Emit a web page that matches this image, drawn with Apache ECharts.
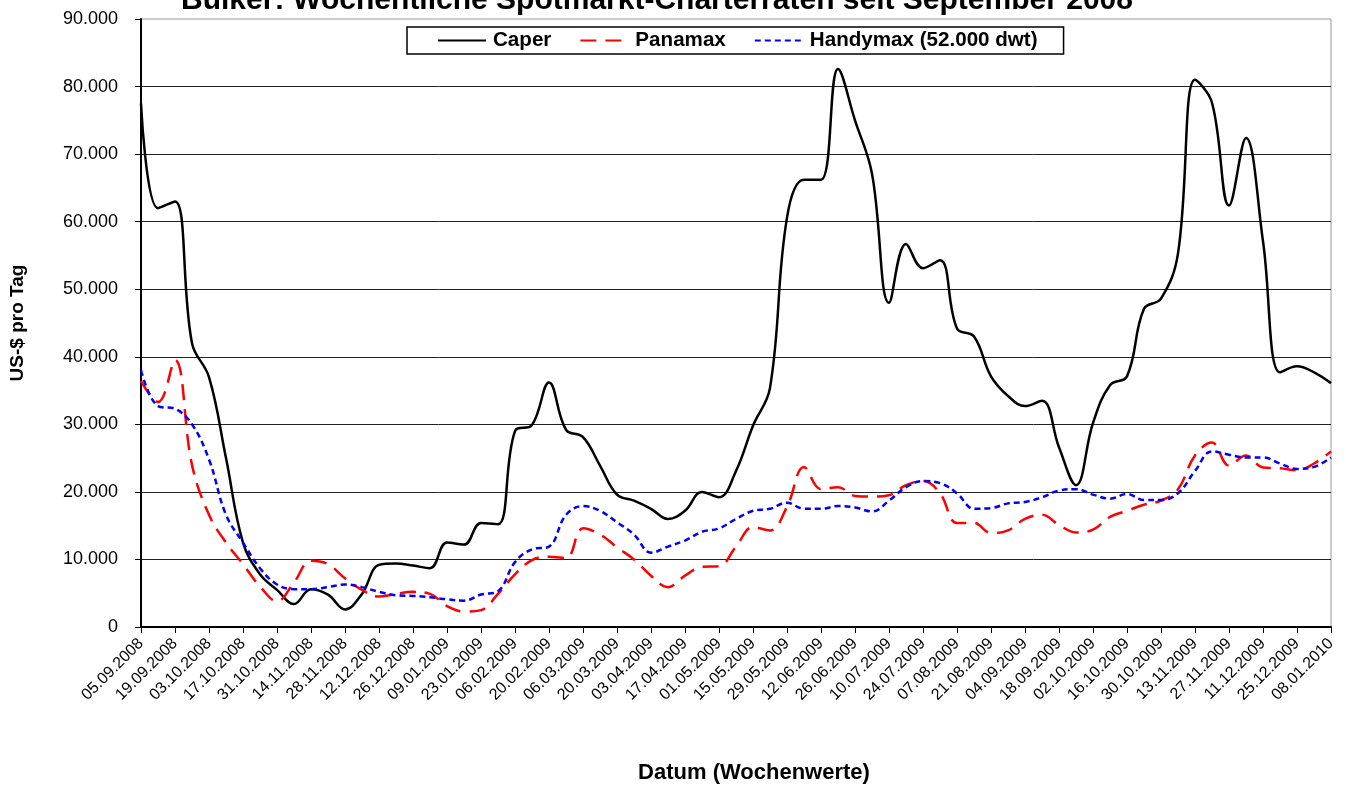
<!DOCTYPE html>
<html>
<head>
<meta charset="utf-8">
<script src="https://cdn.jsdelivr.net/npm/echarts@6/dist/echarts.min.js"></script>
<style>html,body{margin:0;padding:0;background:#fff}#c{width:1346px;height:785px}</style>
</head>
<body>
<div id="c"></div>
<script>
const dates = ['05.09.2008','12.09.2008','19.09.2008','26.09.2008','03.10.2008','10.10.2008','17.10.2008','24.10.2008','31.10.2008','07.11.2008','14.11.2008','21.11.2008','28.11.2008','05.12.2008','12.12.2008','19.12.2008','26.12.2008','02.01.2009','09.01.2009','16.01.2009','23.01.2009','30.01.2009','06.02.2009','13.02.2009','20.02.2009','27.02.2009','06.03.2009','13.03.2009','20.03.2009','27.03.2009','03.04.2009','10.04.2009','17.04.2009','24.04.2009','01.05.2009','08.05.2009','15.05.2009','22.05.2009','29.05.2009','05.06.2009','12.06.2009','19.06.2009','26.06.2009','03.07.2009','10.07.2009','17.07.2009','24.07.2009','31.07.2009','07.08.2009','14.08.2009','21.08.2009','28.08.2009','04.09.2009','11.09.2009','18.09.2009','25.09.2009','02.10.2009','09.10.2009','16.10.2009','23.10.2009','30.10.2009','06.11.2009','13.11.2009','20.11.2009','27.11.2009','04.12.2009','11.12.2009','18.12.2009','25.12.2009','01.01.2010','08.01.2010'];

const caper = [77500,62000,63000,42000,37000,25000,12500,7800,5500,3400,5600,4800,2600,4900,9200,9400,9100,8700,12500,12200,15400,15200,29000,29900,36200,29200,28100,23900,19600,18700,17500,16000,17200,20000,19200,23100,29800,35400,60600,66200,66200,82600,75000,67100,48000,56700,53100,54300,44200,43000,37100,34200,32700,33500,26600,21000,30200,35800,37100,47100,48600,55300,81000,77600,62400,72400,57100,37700,38600,37700,36100];

const panamax = [36400,33300,39500,24000,16600,12500,9300,6000,3800,6600,9800,9300,7200,5500,4500,4900,5200,4900,3100,2300,2500,4900,7800,9900,10400,10200,14600,13700,11800,10000,7600,5900,7600,8900,9000,11900,14800,14300,17800,23700,20400,20700,19400,19300,19500,21000,21600,19800,15400,15400,13900,14300,16000,16600,15100,14000,14400,16300,17200,18100,18700,20400,25400,27300,23900,25400,23600,23500,23200,24200,26000];

const handymax = [38000,32700,32300,30000,24800,16600,12500,8700,6300,5600,5600,5900,6300,5900,5200,4700,4600,4400,4100,3900,4800,5300,9600,11500,11900,16600,17900,17200,15500,13700,11000,11900,12800,14100,14600,16000,17200,17500,18400,17500,17500,17900,17700,17100,18700,20700,21600,21300,19800,17500,17600,18300,18500,19200,20200,20400,19600,19000,19700,18800,18800,19800,23100,26000,25500,25100,25100,24200,23400,23700,25100];

const seriesNames = ['Caper','Panamax','Handymax (52.000 dwt)'];
const titleText = 'Bulker: Wöchentliche Spotmarkt-Charterraten seit September 2008';

const FONT = '"Liberation Sans", Arial, sans-serif';
const chart = echarts.init(document.getElementById('c'), null, {renderer:'canvas'});

function fmt(v){
  if (v === 0) return '0';
  return String(v).replace(/\B(?=(\d{3})+(?!\d))/g, '.');
}

chart.setOption({
  animation: false,
  backgroundColor: '#fff',
  title: {
    text: titleText,
    left: 652, textAlign: 'center',
    top: -19,
    textStyle: {fontFamily: FONT, fontSize: 30, fontWeight: 'bold', color: '#000'}
  },
  legend: {
    left: 407, top: 27,
    itemWidth: 48, itemHeight: 14, itemGap: 28,
    padding: [3, 26, 3, 30],
    borderColor: '#000', borderWidth: 1.5,
    backgroundColor: '#fff',
    itemStyle: {opacity: 0},
    textStyle: {fontFamily: FONT, fontSize: 20.6, fontWeight: 'bold', color: '#000', padding: [0, 0, 0, 2]},
    data: seriesNames
  },
  grid: {left: 141, right: 15, top: 19, bottom: 158, show: true, borderColor: '#999', borderWidth: 1,
         containLabel: false, outerBoundsMode: 'none'},
  xAxis: {
    type: 'category', boundaryGap: false, data: dates,
    axisLine: {lineStyle: {color: '#000', width: 2}},
    axisTick: {interval: 1, length: 6, lineStyle: {color: '#000', width: 1}},
    axisLabel: {interval: 1, rotate: 45, fontFamily: FONT, fontSize: 16, color: '#000', margin: 14},
    splitLine: {show: false},
    name: 'Datum (Wochenwerte)', nameLocation: 'middle', nameGap: 135,
    nameTextStyle: {fontFamily: FONT, fontSize: 22, fontWeight: 'bold', color: '#000', padding: [0, 0, 0, 36]}
  },
  yAxis: {
    type: 'value', min: 0, max: 90000, interval: 10000,
    axisLine: {show: true, lineStyle: {color: '#000', width: 2}},
    axisTick: {show: true, length: 6, lineStyle: {color: '#000'}},
    axisLabel: {formatter: fmt, fontFamily: FONT, fontSize: 18, color: '#000', margin: 23},
    splitLine: {show: true, showMaxLine: false, lineStyle: {color: '#222', width: 1}},
    name: 'US-$ pro Tag', nameLocation: 'middle', nameRotate: 90, nameGap: 114,
    nameTextStyle: {fontFamily: FONT, fontSize: 19, fontWeight: 'bold', color: '#000'}
  },
  series: [
    {name: seriesNames[0], type: 'line', data: caper, smooth: 0.4, symbol: 'none',
     lineStyle: {color: '#000', width: 2.5, type: 'solid'}, itemStyle: {color: '#000'}},
    {name: seriesNames[1], type: 'line', data: panamax, smooth: 0.4, symbol: 'none',
     lineStyle: {color: '#ff0000', width: 2.5, type: [16, 9]}, itemStyle: {color: '#ff0000'}},
    {name: seriesNames[2], type: 'line', data: handymax, smooth: 0.4, symbol: 'none',
     lineStyle: {color: '#0000ff', width: 2.5, type: [6, 4]}, itemStyle: {color: '#0000ff'}}
  ]
});
</script>
</body>
</html>
